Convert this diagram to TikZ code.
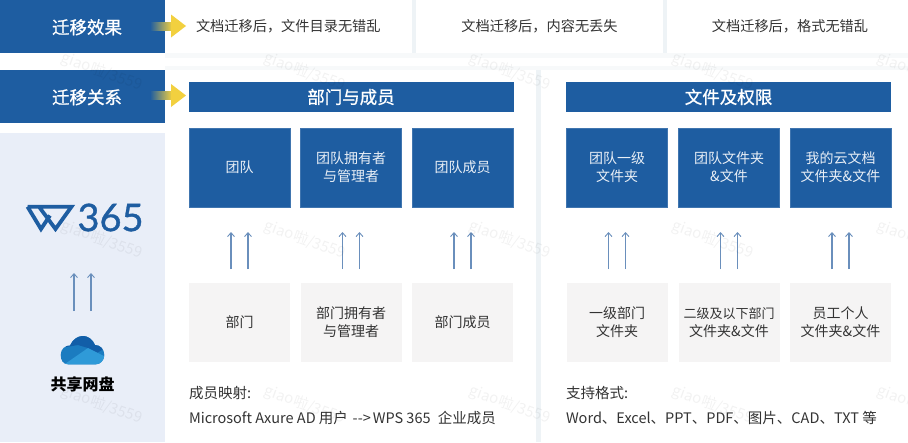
\documentclass[tikz,border=0pt]{standalone}
\usepackage{fontspec}
\setmainfont{Noto Sans CJK SC}
\newfontfamily\logofont{Lato}[FakeBold=0.9]
\newfontfamily\headfont{Noto Sans CJK SC}[FakeBold=0.9]
\usetikzlibrary{arrows.meta}
\definecolor{brandblue}{HTML}{1E5DA1}
\definecolor{txt}{HTML}{333333}
\definecolor{graybox}{HTML}{F5F4F4}
\definecolor{paleblue}{HTML}{E9EEF8}
\definecolor{gapc}{HTML}{EEF3F6}
\definecolor{ylw}{HTML}{F2D03F}
\definecolor{arrowc}{HTML}{6A8FBC}
\definecolor{cloudmid}{HTML}{1B7CC0}
\definecolor{clouddark}{HTML}{125EA8}
\definecolor{cloudlight}{HTML}{2F9AD8}
\tikzset{
 x=1pt,y=-1pt,
 every node/.style={inner sep=0pt,outer sep=0pt,align=center},
 hdr/.style={fill=brandblue,text=white,font=\fontsize{17.5}{20}\selectfont\headfont},
 tophead/.style={hdr,minimum width=165pt,minimum height=53pt,text depth=0pt},
 sechead/.style={hdr,minimum width=325pt,minimum height=30pt},
 bluebox/.style={fill=brandblue,draw=brandblue!85!white,line width=.4pt,text=white!90!brandblue,minimum width=101pt,minimum height=79pt,font=\fontsize{14}{18}\selectfont},
 grybox/.style={fill=graybox,text=txt,minimum width=101pt,minimum height=79pt,font=\fontsize{14}{18}\selectfont},
 plain/.style={text=txt,font=\fontsize{14.2}{18}\selectfont},
 note/.style={text=txt,anchor=west,font=\fontsize{14.5}{18}\selectfont},
 upar/.style={draw=arrowc,line width=1.05pt,-{Straight Barb[length=4pt,width=7pt,line width=.9pt]}},
 wmark/.style={text=black,opacity=.05,rotate=-20,font=\fontsize{15}{15}\selectfont},
}
\newcommand{\yellowarrow}[1]{%
 \shade[left color=brandblue,right color=ylw] (150,#1-4) rectangle (172,#1+4);
 \fill[ylw] (171,#1-11.5) -- (186,#1) -- (171,#1+11.5) -- cycle;}
\begin{document}
\begin{tikzpicture}
\useasboundingbox (0,0) rectangle (908,442);
\fill[white] (0,0) rectangle (908,442);
% panel surroundings
\fill[gapc!50!white] (165,53) rectangle (908,58);
\fill[gapc!50!white] (165,66) rectangle (908,70);
\fill[gapc] (412,0) rectangle (416,53);
\fill[gapc] (663,0) rectangle (667,53);
\fill[gapc] (536,70) rectangle (541,442);
\fill[paleblue] (0,133) rectangle (165,442);
% top row
\node[tophead] (effect) at (82.5,26.5) {\hspace*{9pt}迁移效果};
\node[tophead] (relation) at (82.5,96.5) {\hspace*{9pt}迁移关系};
\node[plain,anchor=west] (e1) at (196,26.5) {文档迁移后，文件目录无错乱};
\node[plain] (e2) at (539.5,26.5) {文档迁移后，内容无丢失};
\node[plain] (e3) at (790,26.5) {文档迁移后，格式无错乱};
\yellowarrow{26}
\yellowarrow{95.5}
% section heads
\node[sechead] (members) at (351,97) {部门与成员};
\node[sechead] (files) at (728.5,97) {文件及权限};
% blue boxes
\node[bluebox] (b1) at (239.5,167.5) {团队};
\node[bluebox] (b2) at (351,167.5) {团队拥有者\\与管理者};
\node[bluebox] (b3) at (462.5,167.5) {团队成员};
\node[bluebox] (b4) at (617,167.5) {团队一级\\文件夹};
\node[bluebox] (b5) at (729,167.5) {团队文件夹\\\&文件};
\node[bluebox] (b6) at (840.5,167.5) {我的云文档\\文件夹\&文件};
% grey boxes
\node[grybox] (g1) at (239.5,322.5) {部门};
\node[grybox] (g2) at (351,322.5) {部门拥有者\\与管理者};
\node[grybox] (g3) at (462.5,322.5) {部门成员};
\node[grybox] (g4) at (617,322.5) {一级部门\\文件夹};
\node[grybox] (g5) at (729,322.5) {\fontsize{13}{18}\selectfont 二级及以下部门\\文件夹\&文件};
\node[grybox] (g6) at (840.5,322.5) {员工个人\\文件夹\&文件};
% paired arrows
\foreach \n in {1,...,6}{
 \draw[upar] ([shift={(-8.5,-14)}]g\n.north) -- ([shift={(-8.5,25)}]b\n.south);
 \draw[upar] ([shift={(8.5,-14)}]g\n.north) -- ([shift={(8.5,25)}]b\n.south);
}
% notes
\node[note] (n1) at (189,393) {成员映射:};
\node[note] (n2) at (189,418) {Microsoft Axure AD 用户 \hspace{1.5pt}-{}-{}>\hspace{2pt}WPS 365 \hspace{4pt}企业成员};
\node[note] (n3) at (566,393) {支持格式:};
\node[note] (n4) at (566,418) {Word、Excel、PPT、PDF、图片、CAD、TXT 等};
% WPS logo
\draw[brandblue,line width=3.8pt,line join=miter,miter limit=8]
 (27.5,206.7) -- (71.5,206.7) -- (55.5,229) -- (39,206.7)
 (27.5,206.7) -- (41,229) -- (50,215.5);
\node[anchor=west,text=brandblue,font=\logofont\fontsize{38}{38}\selectfont] (logotxt) at (77.5,217.5) {365};
% arrows between the two products
\coordinate (wpsb) at (74,311);
\coordinate (wpst) at (74,273);
\coordinate (wpsb2) at (91,311);
\coordinate (wpst2) at (91,273);
\draw[upar] (wpsb) -- (wpst);
\draw[upar] (wpsb2) -- (wpst2);
% cloud
\begin{scope}
\clip (68,364.3) .. controls (63,364.3) and (60.7,360) .. (60.7,355) .. controls (60.7,349) and (65,345.5) .. (70,345.5) .. controls (73,339) and (78,336) .. (83,336) .. controls (88,336) and (92.5,339) .. (95,345) .. controls (100,345) and (104.3,349) .. (104.3,355) .. controls (104.3,360.5) and (100,364.3) .. (96,364.3) -- cycle;
\fill[cloudmid] (55,330) rectangle (110,370);
\fill[clouddark] (66,330) -- (66,347) -- (78,345) -- (88,348) -- (97,353) -- (110,345) -- (110,330) -- cycle;
\fill[cloudlight] (62,366) -- (88,348) -- (108,358) -- (108,370) -- (62,370) -- cycle;
\end{scope}
\node[text=black,font=\fontsize{16}{18}\selectfont\bfseries] (drive) at (82.5,384) {共享网盘};
% watermarks
\foreach \wx in {102,305,510,713,918}{
 \foreach \wy in {72,240,405}{
  \node[wmark] at (\wx,\wy) {giao啦/3559};
 }
}
\end{tikzpicture}
\end{document}
